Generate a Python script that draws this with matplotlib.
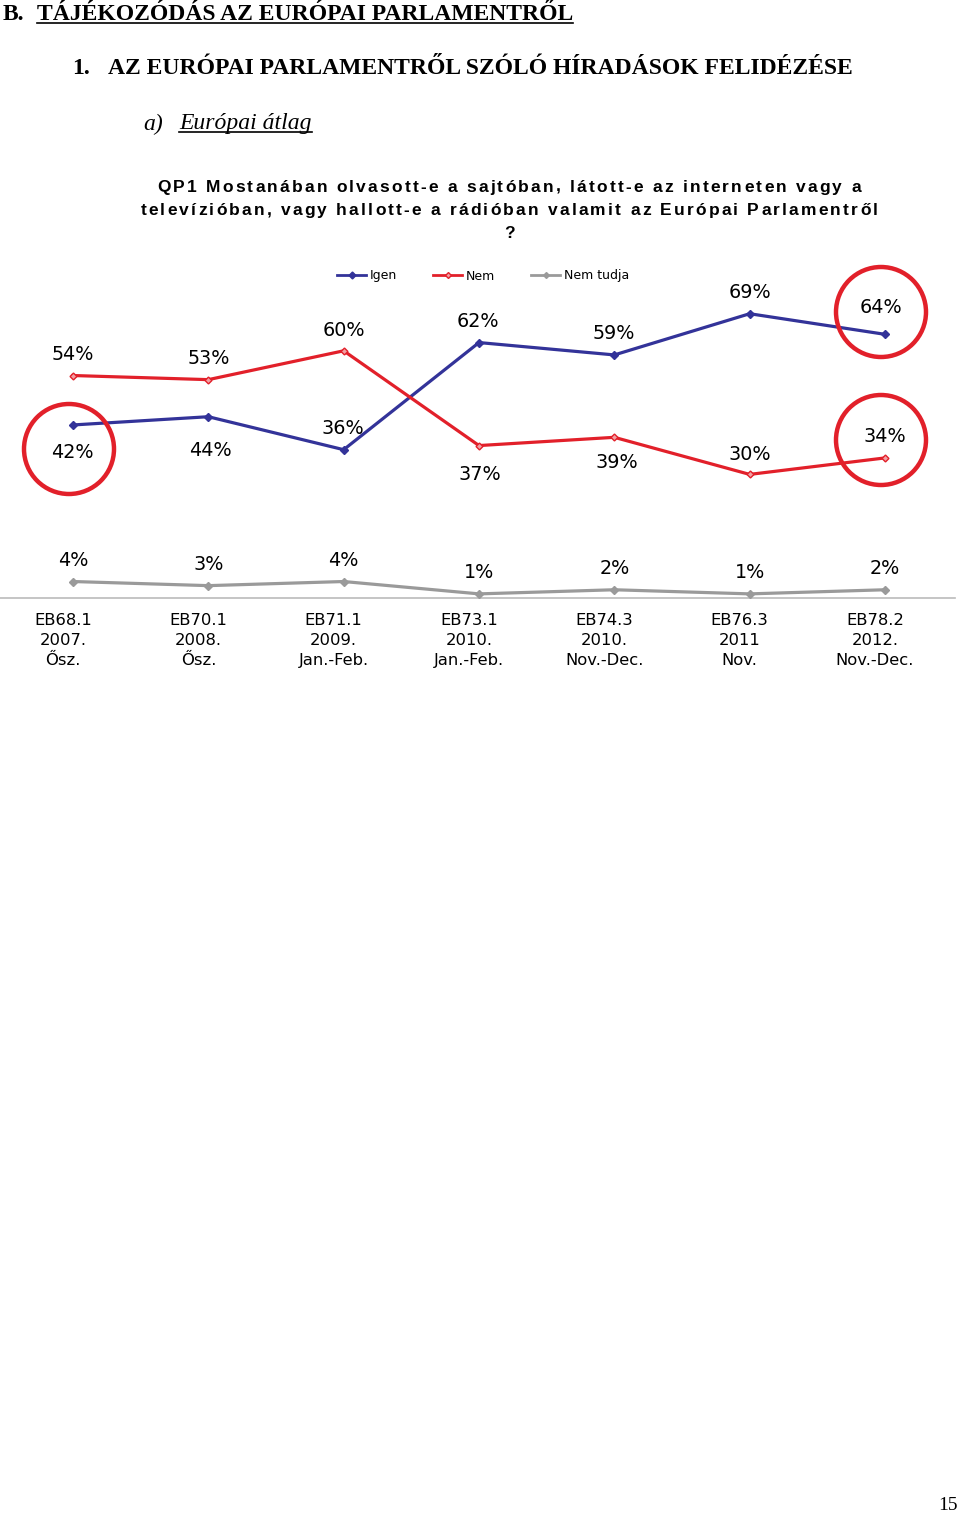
import matplotlib
matplotlib.use("Agg")
import matplotlib.pyplot as plt
from matplotlib.patches import Ellipse
from matplotlib.lines import Line2D
from matplotlib.font_manager import FontProperties
import matplotlib.transforms as mtrans

# ---------------- data ----------------
categories = ["EB68.1\n2007.\nŐsz.", "EB70.1\n2008.\nŐsz.", "EB71.1\n2009.\nJan.-Feb.",
              "EB73.1\n2010.\nJan.-Feb.", "EB74.3\n2010.\nNov.-Dec.", "EB76.3\n2011\nNov.",
              "EB78.2\n2012.\nNov.-Dec."]
igen = [42, 44, 36, 62, 59, 69, 64]
nem = [54, 53, 60, 37, 39, 30, 34]
nem_tudja = [4, 3, 4, 1, 2, 1, 2]
series_names = ["Igen", "Nem", "Nem tudja"]

# label offsets in pixels (dx, dy) relative to point, dy positive = up
igen_off = [(-1, -28), (2, -34), (-1, 21), (-1, 21), (-1, 21), (0, 21), (-4, 27)]
nem_off = [(0, 21), (0, 21), (0, 20), (1, -29), (2, -25), (0, 20), (0, 21)]
nt_off = [(0, 21)] * 7

W, H = 960, 1514
fig = plt.figure(figsize=(W / 100, H / 100), dpi=100)
fig.patch.set_facecolor("white")

BLUE = "#333399"
RED = "#E2202A"
GRAY = "#9A9A9A"

# axes placement in pixel coordinates
ax_left, ax_right = 0, 955
ax_bottom_px, ax_top_px = 598, 290
ax = fig.add_axes([ax_left / W, 1 - ax_bottom_px / H, (ax_right - ax_left) / W,
                   (ax_bottom_px - ax_top_px) / H])
ppu = (885 - 73) / 6.0
ax.set_xlim(-73 / ppu, (955 - 73) / ppu)
ax.set_ylim(0, (ax_bottom_px - ax_top_px) / 4.12)
for s in ["top", "right", "left"]:
    ax.spines[s].set_visible(False)
ax.spines["bottom"].set_color("#BBBBBB")
ax.spines["bottom"].set_linewidth(1.2)
ax.set_yticks([])
x = list(range(len(categories)))
ax.set_xticks(x)
ax.set_xticklabels(categories, fontsize=11.8, family="DejaVu Sans", linespacing=1.42)
ax.tick_params(axis="x", length=0, pad=11)
off = mtrans.ScaledTranslation(-10 / 100, 0, fig.dpi_scale_trans)
for lab in ax.get_xticklabels():
    lab.set_transform(lab.get_transform() + off)

lw = 2.3
ax.plot(x, nem_tudja, color=GRAY, lw=lw, marker="D", ms=4, mfc=GRAY, mec=GRAY,
        label=series_names[2], clip_on=False, zorder=3)
ax.plot(x, igen, color=BLUE, lw=lw, marker="D", ms=4.5, mfc=BLUE, mec=BLUE,
        label=series_names[0], clip_on=False, zorder=4)
ax.plot(x, nem, color=RED, lw=lw, marker="D", ms=3.5, mfc="#F2A0A4", mec=RED, mew=1,
        label=series_names[1], clip_on=False, zorder=5)

def labels(vals, offs):
    for xi, v, (dx, dy) in zip(x, vals, offs):
        ax.annotate(f"{v}%", (xi, v), xytext=(dx * 0.72, dy * 0.72), textcoords="offset points",
                    ha="center", va="center", fontsize=13.8, family="DejaVu Sans",
                    color="black", annotation_clip=False, zorder=6)

labels(igen, igen_off)
labels(nem, nem_off)
labels(nem_tudja, nt_off)

# legend
handles = [Line2D([0], [0], color=BLUE, lw=2, marker="D", ms=3.5, mfc=BLUE, mec=BLUE),
           Line2D([0], [0], color=RED, lw=2, marker="D", ms=3, mfc="#F2A0A4", mec=RED),
           Line2D([0], [0], color=GRAY, lw=2, marker="D", ms=3, mfc=GRAY, mec=GRAY)]
leg = fig.legend(handles, series_names, loc="center", bbox_to_anchor=(483 / W, 1 - 276 / H),
                 ncol=3, frameon=False, handlelength=2.3, handletextpad=0.3,
                 columnspacing=2.9, prop={"family": "DejaVu Sans", "size": 9})

# red circles
for cx, cy in [(69, 449), (881, 312), (881, 440)]:
    fig.add_artist(Ellipse((cx / W, 1 - cy / H), 90 / W, 90 / H, transform=fig.transFigure,
                           fill=False, ec=RED, lw=3.2))

# headings
serif = "Liberation Serif"
HS = 17
fig.text(3 / W, 1 - 15 / H, "B.", fontsize=HS, family=serif, weight="bold", va="center")
t1 = fig.text(37 / W, 1 - 15 / H, "TÁJÉKOZÓDÁS AZ EURÓPAI PARLAMENTRŐL", fontsize=HS,
              family=serif, weight="bold", va="center")
fig.text(72 / W, 1 - 69 / H, "1.", fontsize=HS, family=serif, weight="bold", va="center")
fig.text(108 / W, 1 - 69 / H, "AZ EURÓPAI PARLAMENTRŐL SZÓLÓ HÍRADÁSOK FELIDÉZÉSE",
         fontsize=HS, family=serif, weight="bold", va="center")
fig.text(143 / W, 1 - 124 / H, "a)", fontsize=HS, family=serif, style="italic", va="center")
t3 = fig.text(179 / W, 1 - 124 / H, "Európai átlag", fontsize=HS, family=serif,
              style="italic", va="center")
fig.text(958 / W, 1 - 1505 / H, "15", fontsize=14, family=serif, ha="right", va="center")

# question with expanded letter spacing
q_lines = ["QP1 Mostanában olvasott-e a sajtóban, látott-e az interneten vagy a",
           "televízióban, vagy hallott-e a rádióban valamit az Európai Parlamentről",
           "?"]
q_base = [192, 215, 238]
q_spacing = 2.2  # px between glyphs
fig.canvas.draw()
r = fig.canvas.get_renderer()
qprop = FontProperties(family="Liberation Sans", weight="bold", size=12.5)
for line, yy in zip(q_lines, q_base):
    widths = [r.get_text_width_height_descent(c, qprop, ismath=False)[0] for c in line]
    total = sum(widths) + q_spacing * (len(line) - 1)
    xx = 509 - total / 2
    for c, w in zip(line, widths):
        fig.text(xx / W, 1 - yy / H, c, fontproperties=qprop, ha="left", va="baseline")
        xx += w + q_spacing

# underlines
fig.canvas.draw()
r = fig.canvas.get_renderer()
for t, dy in [(t1, 3), (t3, 3)]:
    bb = t.get_window_extent(r)
    fig.add_artist(Line2D([bb.x0 / W, bb.x1 / W], [(bb.y0 + dy) / H, (bb.y0 + dy) / H],
                          transform=fig.transFigure, color="black", lw=1.2))

fig.savefig("out.png", dpi=100, facecolor="white")
